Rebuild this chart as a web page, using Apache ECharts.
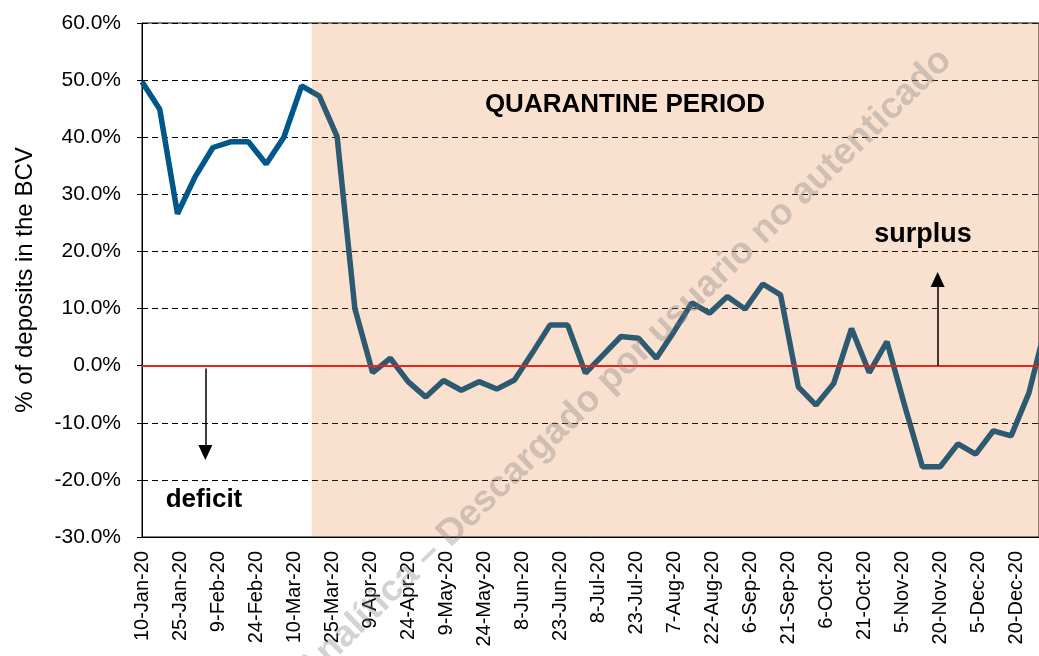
<!DOCTYPE html>
<html>
<head>
<meta charset="utf-8">
<script src="https://cdn.jsdelivr.net/npm/echarts@6/dist/echarts.min.js"></script>
<style>
	html, body { margin: 0; padding: 0; background: #fff; }
	#main { width: 1039px; height: 656px; }
</style>
</head>
<body>
<div id="main"></div>
<script>
// weekly observations (Fridays)
var dates = [
	'2020-01-10', '2020-01-17', '2020-01-24', '2020-01-31',
	'2020-02-07', '2020-02-14', '2020-02-21', '2020-02-28',
	'2020-03-06', '2020-03-13', '2020-03-20', '2020-03-27',
	'2020-04-03', '2020-04-10', '2020-04-17', '2020-04-24',
	'2020-05-01', '2020-05-08', '2020-05-15', '2020-05-22', '2020-05-29',
	'2020-06-05', '2020-06-12', '2020-06-19', '2020-06-26',
	'2020-07-03', '2020-07-10', '2020-07-17', '2020-07-24', '2020-07-31',
	'2020-08-07', '2020-08-14', '2020-08-21', '2020-08-28',
	'2020-09-04', '2020-09-11', '2020-09-18', '2020-09-25',
	'2020-10-02', '2020-10-09', '2020-10-16', '2020-10-23', '2020-10-30',
	'2020-11-06', '2020-11-13', '2020-11-20', '2020-11-27',
	'2020-12-04', '2020-12-11', '2020-12-18', '2020-12-25',
	'2021-01-01'
];
// % of deposits in the BCV
var deposits = [
	49.7, 44.9, 26.6, 33.1,
	38.2, 39.2, 39.2, 35.3,
	40.0, 49.0, 47.2, 40.1,
	10.0, -1.2, 1.3, -2.8,
	-5.5, -2.6, -4.3, -2.8, -4.1,
	-2.5, 2.2, 7.1, 7.1,
	-1.3, 1.9, 5.1, 4.8, 1.3,
	6.0, 11.0, 9.2, 12.1,
	9.9, 14.3, 12.4, -3.7,
	-6.9, -3.1, 6.5, -1.2, 4.2,
	-7.0, -17.7, -17.7, -13.7,
	-15.5, -11.4, -12.3, -4.8,
	7.5
];
// visible date range of the axis (picture is cut at the right)
var axisRange = ['2020-01-10', '2020-12-29'];
// quarantine period (shaded)
var quarantine = ['2020-03-17', '2020-12-29'];
// annotation arrows: [date, from %, to %]
var deficitArrow = ['2020-02-04', -0.5, -15.2];
var surplusArrow = ['2020-11-19', 0, 15.1];

var months = ['Jan', 'Feb', 'Mar', 'Apr', 'May', 'Jun', 'Jul', 'Aug', 'Sep', 'Oct', 'Nov', 'Dec'];
var base = Date.UTC(2020, 0, 10);
var font = '"Liberation Sans", Arial, sans-serif';

function dayOf(s) {
	return Math.round((Date.parse(s) - base) / 864e5);
}

function dayLabel(v) {
	var d = new Date(base + v * 864e5);
	return d.getUTCDate() + '-' + months[d.getUTCMonth()] + '-' + String(d.getUTCFullYear()).slice(2);
}

var lineData = [];
for (var i = 0; i < dates.length; i++) {
	lineData.push([dayOf(dates[i]), deposits[i]]);
}

var chart = echarts.init(document.getElementById('main'));

var option = {
	backgroundColor : '#fff',
	animation : false,
	grid : {
		left : 142,
		top : 23,
		bottom : 119,
		right : 0,
		show : true,
		borderColor : '#000',
		borderWidth : 1,
		backgroundColor : 'transparent'
	},
	xAxis : {
		type : 'value',
		min : dayOf(axisRange[0]),
		max : dayOf(axisRange[1]),
		interval : 15,
		axisLine : { show : true, onZero : false, lineStyle : { color : '#000', width : 1 } },
		axisTick : { show : false },
		splitLine : { show : false },
		axisLabel : {
			rotate : 90,
			margin : 14,
			fontSize : 20,
			fontFamily : font,
			color : '#000',
			showMaxLabel : false,
			formatter : dayLabel
		}
	},
	yAxis : {
		type : 'value',
		min : -30,
		max : 60,
		interval : 10,
		name : '% of deposits in the BCV',
		nameLocation : 'middle',
		nameGap : 105,
		nameTextStyle : { fontSize : 24, fontFamily : font, color : '#000' },
		axisLine : { show : true, lineStyle : { color : '#000', width : 1 } },
		axisTick : { show : true, length : 5, lineStyle : { color : '#000' } },
		splitLine : { show : true, lineStyle : { color : '#000', width : 1, type : [6, 4] } },
		axisLabel : {
			margin : 21,
			fontSize : 21,
			fontFamily : font,
			color : '#000',
			formatter : function(v) {
				return v.toFixed(1) + '%';
			}
		}
	},
	series : [ {
		name : 'deposits',
		type : 'line',
		z : 2,
		clip : true,
		data : lineData,
		showSymbol : false,
		lineStyle : { color : '#00578A', width : 5.5 },
		markLine : {
			silent : true,
			symbol : 'none',
			label : { show : false },
			lineStyle : { color : '#E2261C', width : 2, type : 'solid' },
			data : [ { yAxis : 0 } ]
		}
	}, {
		// translucent shade laid over the line for the quarantine weeks
		name : 'quarantine',
		type : 'line',
		z : 3,
		data : [],
		markArea : {
			silent : true,
			z : 4,
			itemStyle : { color : 'rgba(224,100,15,0.2)' },
			data : [ [ { xAxis : dayOf(quarantine[0]) }, { xAxis : dayOf(quarantine[1]) } ] ]
		}
	}, {
		name : 'arrows',
		type : 'line',
		z : 6,
		data : [],
		markLine : {
			silent : true,
			z : 6,
			symbol : [ 'none', 'triangle' ],
			symbolSize : [ 14, 15 ],
			label : { show : false },
			lineStyle : { color : '#000', width : 1.5, type : 'solid' },
			data : [
				[ { coord : [ dayOf(deficitArrow[0]), deficitArrow[1] ] }, { coord : [ dayOf(deficitArrow[0]), deficitArrow[2] ] } ],
				[ { coord : [ dayOf(surplusArrow[0]), surplusArrow[1] ] }, { coord : [ dayOf(surplusArrow[0]), surplusArrow[2] ] } ]
			]
		}
	} ],
	graphic : [ {
		type : 'text',
		z : 10,
		x : 625,
		y : 105,
		style : { text : 'QUARANTINE PERIOD', fontSize : 26, fontWeight : 'bold', fontFamily : font, fill : '#000', align : 'center', verticalAlign : 'middle' }
	}, {
		type : 'text',
		z : 10,
		x : 923,
		y : 235,
		style : { text : 'surplus', fontSize : 27, fontWeight : 'bold', fontFamily : font, fill : '#000', align : 'center', verticalAlign : 'middle' }
	}, {
		type : 'text',
		z : 10,
		x : 204,
		y : 500,
		style : { text : 'deficit', fontSize : 26, fontWeight : 'bold', fontFamily : font, fill : '#000', align : 'center', verticalAlign : 'middle' }
	}, {
		// watermark
		type : 'text',
		z : 9,
		x : 946,
		y : 55,
		rotation : 0.768,
		silent : true,
		style : { text : 'Analítica – Descargado por usuario no autenticado', fontSize : 37, fontWeight : 'bold', fontFamily : font, fill : 'rgba(120,120,120,0.33)', align : 'right', verticalAlign : 'middle' }
	} ]
};

chart.setOption(option);
</script>
</body>
</html>
